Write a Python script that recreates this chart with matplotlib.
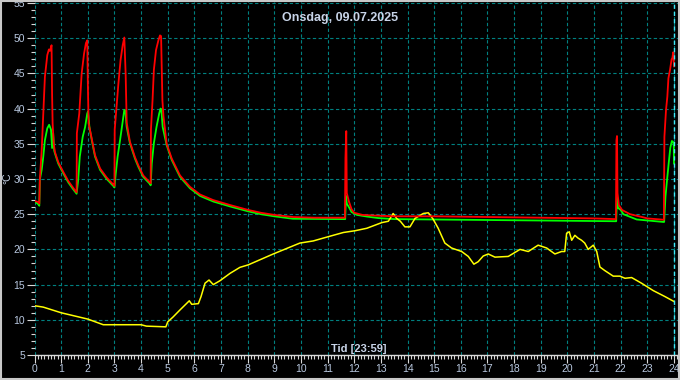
import matplotlib
matplotlib.use("Agg")
import matplotlib.pyplot as plt
from matplotlib.patches import Rectangle
from matplotlib.ticker import MultipleLocator

# ----------------------------------------------------------------------
# Data (hours of day, degrees C)
# ----------------------------------------------------------------------
red_t = [0, 0.15, 0.18, 0.2, 0.27, 0.33, 0.39, 0.48, 0.54, 0.58, 0.64, 0.66, 0.68, 0.72,
         0.77, 0.89, 1.08, 1.27, 1.46, 1.58, 1.59, 1.68, 1.77, 1.86, 1.93, 1.98, 2.0, 2.03,
         2.08, 2.15, 2.27, 2.46, 2.71, 2.96, 3.0, 3.01, 3.08, 3.15, 3.23, 3.31, 3.37, 3.42,
         3.46, 3.58, 3.77, 3.90, 4.08, 4.33, 4.36, 4.37, 4.43, 4.48, 4.56, 4.65, 4.71, 4.75,
         4.8, 4.84, 4.96, 5.15, 5.46, 5.83, 6.21, 6.71, 7.34, 8.02, 8.5, 9.0, 9.7, 10.5,
         11.65, 11.67, 11.70, 11.72, 11.8, 11.9, 12.0, 12.3, 12.8, 13.5, 15, 17, 19, 21,
         21.82, 21.84, 21.86, 21.88, 21.93, 22.05, 22.35, 22.8, 23.0, 23.5, 23.62, 23.64,
         23.7, 23.75, 23.79, 23.85, 23.91, 23.94, 23.97, 24.0]
red_v = [26.9, 26.7, 26.5, 29.9, 34.1, 39.3, 44.5, 47.6, 48.4, 48.2, 49.0, 42.0, 37.9, 35.0,
         33.8, 32.4, 31.0, 29.7, 28.7, 28.1, 36.5, 39.3, 45.0, 47.8, 49.3, 49.7, 44.0, 37.9,
         37.0, 35.7, 33.4, 31.5, 30.2, 29.2, 29.0, 37.0, 40.3, 43.6, 46.9, 49.0, 50.1, 45.0,
         38.0, 35.3, 33.1, 31.9, 30.5, 29.5, 29.4, 37.0, 41.2, 45.5, 48.3, 49.7, 50.4, 50.3,
         41.2, 38.9, 35.0, 32.9, 30.5, 28.9, 27.8, 27.0, 26.3, 25.6, 25.2, 24.9, 24.6, 24.5,
         24.5, 33.0, 36.8, 28.0, 26.8, 25.7, 25.2, 24.9, 24.8, 24.7, 24.7, 24.6, 24.5, 24.4,
         24.3, 35.5, 36.1, 28.0, 26.3, 25.6, 25.0, 24.6, 24.4, 24.25, 24.2, 36.0,
         39.8, 41.7, 44.3, 45.5, 47.0, 47.2, 48.0, 46.0]

green_t = [0, 0.12, 0.18, 0.2, 0.27, 0.33, 0.39, 0.48, 0.55, 0.62, 0.66, 0.70, 0.74, 0.77,
           0.89, 1.08, 1.27, 1.46, 1.58, 1.64, 1.70, 1.81, 1.9, 1.98, 2.01, 2.06, 2.15, 2.27,
           2.46, 2.71, 2.96, 3.0, 3.05, 3.12, 3.21, 3.30, 3.37, 3.41, 3.46, 3.58, 3.77, 3.90,
           4.08, 4.33, 4.36, 4.4, 4.48, 4.58, 4.68, 4.73, 4.76, 4.81, 4.96, 5.15, 5.46, 5.83,
           6.21, 6.71, 7.34, 8.02, 8.5, 9.0, 9.7, 11.66, 11.69, 11.72, 11.8, 11.9, 12.1, 12.5,
           12.9, 13.5, 21.83, 21.86, 21.9, 22.0, 22.1, 22.3, 22.6, 23.6, 23.63, 23.68, 23.74,
           23.8, 23.86, 23.92, 23.96, 23.99, 24.0]
green_v = [26.8, 26.5, 26.2, 29.9, 31.3, 33.2, 35.5, 37.2, 37.7, 37.0, 34.4, 36.5, 34.0, 33.6,
           32.2, 30.8, 29.5, 28.5, 27.9, 29.9, 33.2, 36.0, 37.4, 39.3, 39.6, 37.4, 35.5, 33.2,
           31.3, 30.0, 29.0, 28.8, 30.8, 33.2, 35.5, 37.9, 39.8, 39.7, 37.4, 35.1, 32.9, 31.7,
           30.3, 29.3, 29.1, 32.2, 35.1, 37.4, 39.3, 40.0, 39.9, 37.4, 34.8, 32.7, 30.3, 28.7,
           27.6, 26.8, 26.1, 25.4, 25.0, 24.7, 24.35, 24.3, 27.6, 26.5, 26.0, 25.3, 24.9, 24.65,
           24.45, 24.3, 24.0, 27.4, 25.9, 25.6, 25.0, 24.7, 24.25, 23.9, 23.9, 27.5, 29.9,
           32.2, 34.4, 35.4, 35.3, 35.0, 32.2]

yellow_t = [0, 0.33, 1.0, 2.0, 2.58, 3.0, 4.0, 4.2, 4.93, 5.0, 5.2, 5.46, 5.81, 5.9, 6.15,
            6.25, 6.4, 6.55, 6.71, 6.96, 7.34, 7.71, 8.02, 8.96, 9.96, 10.46, 11.02, 11.59,
            12.03, 12.47, 13.03, 13.28, 13.46, 13.59, 13.73, 13.9, 14.09, 14.28, 14.59, 14.78,
            14.96, 15.15, 15.4, 15.65, 16.03, 16.28, 16.49, 16.65, 16.84, 17.03, 17.28, 17.78,
            18.22, 18.53, 18.9, 19.22, 19.53, 19.78, 19.9, 19.97, 20.07, 20.16, 20.28, 20.4,
            20.53, 20.65, 20.78, 20.97, 21.1, 21.22, 21.4, 21.72, 21.97, 22.16, 22.41, 22.78,
            23.22, 23.66, 24.0]
yellow_v = [12.0, 11.8, 11.0, 10.1, 9.3, 9.3, 9.3, 9.1, 9.0, 9.7, 10.4, 11.4, 12.7, 12.2, 12.3,
            13.3, 15.2, 15.65, 15.0, 15.55, 16.6, 17.45, 17.8, 19.35, 20.9, 21.2, 21.8, 22.4,
            22.65, 23.0, 23.8, 24.0, 25.1, 24.4, 24.0, 23.2, 23.2, 24.4, 25.1, 25.2,
            24.3, 23.0, 20.9, 20.2, 19.7, 19.0, 17.9, 18.25, 19.06, 19.35, 18.9, 19.0,
            20.0, 19.7, 20.6, 20.2, 19.35, 19.7, 19.7, 22.3, 22.5, 21.3, 22.0, 21.6,
            21.3, 20.9, 20.0, 20.6, 19.7, 17.5, 17.0, 16.2, 16.2, 15.9, 16.0, 15.2,
            14.15, 13.3, 12.6]

title_text = "Onsdag, 09.07.2025"
xlabel_text = "Tid [23:59]"
ylabel_text = "°C"

# ----------------------------------------------------------------------
# Figure
# ----------------------------------------------------------------------
label_col = "#b8c8e0"
plt.rcParams["font.family"] = ["Liberation Sans", "DejaVu Sans"]

fig = plt.figure(figsize=(6.8, 3.8), dpi=100, facecolor="black")
ax = fig.add_axes([34.5 / 680, 25 / 380, (678 - 34.5) / 680, 353 / 380], facecolor="black")

ax.plot(red_t, red_v, color="#ff0000", lw=1.3, zorder=3)
ax.plot(green_t, green_v, color="#00ff00", lw=1.3, zorder=2)
ax.plot(yellow_t, yellow_v, color="#ffff00", lw=1.1, zorder=2)

ax.set_xlim(0, 24.15)
ax.set_ylim(5, 55.14)
ax.xaxis.set_major_locator(MultipleLocator(1))
ax.xaxis.set_minor_locator(MultipleLocator(0.125))
ax.yaxis.set_major_locator(MultipleLocator(5))
ax.yaxis.set_minor_locator(MultipleLocator(1))

ax.grid(True, which="major", color="#008080", lw=0.8, linestyle=(0, (3, 2.2)), zorder=1)
ax.axvline(24, color="#40e8f8", lw=1.0, linestyle=(0, (3, 2.2)), zorder=4)

for s in ["top", "right", "left"]:
    ax.spines[s].set_visible(False)
ax.spines["bottom"].set_color("#d8d8d8")
ax.spines["bottom"].set_linewidth(1.0)

ax.tick_params(which="major", length=5.8, width=0.8, color="#d8d8d8", pad=1,
               labelsize=7.5, labelcolor=label_col)
ax.tick_params(which="minor", length=2.9, width=0.8, color="#d8d8d8")

fig.text(0.5, 1 - 18 / 380, title_text, ha="center", va="center", fontsize=9,
         fontweight="bold", color="#c8d4e8")
fig.text(359 / 680, 1 - 349 / 380, xlabel_text, ha="center", va="center", fontsize=8,
         fontweight="bold", color="#c8d4e8")
fig.text(7.5 / 680, 1 - 178 / 380, ylabel_text, ha="center", va="center", fontsize=7.5,
         rotation=90, color="#c8d4e8")

fig.patches.append(Rectangle((0.001, 0.002), 0.997, 0.995, transform=fig.transFigure,
                             fill=False, edgecolor="#c8c8c8", lw=1.5))

fig.savefig("out.png", dpi=100, facecolor="black")
